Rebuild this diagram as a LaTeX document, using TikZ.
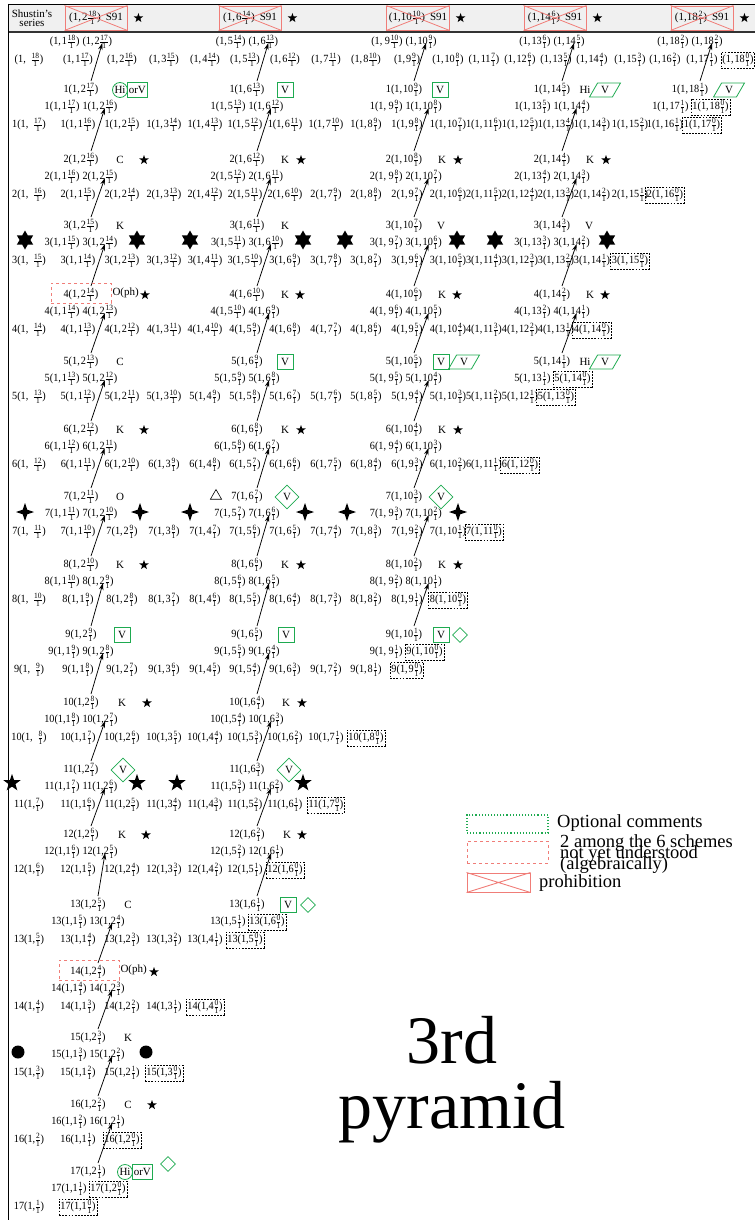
\documentclass[tikz,border=0pt]{standalone}
\usepackage{fontspec}
\setmainfont{Liberation Serif}
\newfontfamily\entfont[FakeStretch=0.93]{Liberation Serif}
\usetikzlibrary{shapes.geometric,arrows.meta,calc}
\definecolor{cgreen}{RGB}{30,170,80}
\definecolor{cred}{RGB}{240,125,120}
\newcommand\fnt{\entfont\fontsize{11}{11}\selectfont}
\newcommand\lfnt{\fontsize{11}{11}\selectfont}
\newcommand\fr[2]{$\nulldelimiterspace=0.8pt\frac{\hbox{\fontsize{8}{8}\selectfont #1}}{\hbox{\fontsize{8}{8}\selectfont #2}}$}
\begin{document}
\begin{tikzpicture}[x=1pt,y=-1pt,
  ent/.style={inner sep=0.3pt, font=\fnt},
  zbox/.style={ent, draw, dash pattern=on 1.8pt off 1.3pt, line width=0.55pt, inner sep=1.2pt},
  lab/.style={inner sep=0.5pt, font=\lfnt},
  gbox/.style={draw=cgreen, line width=0.8pt, inner sep=1.5pt, font=\lfnt, minimum width=16pt, minimum height=15pt},
  gcirc/.style={circle, draw=cgreen, line width=0.8pt, inner sep=0.3pt, minimum size=15pt, font=\lfnt},
  gdiam/.style={diamond, aspect=1, draw=cgreen, line width=0.8pt, inner sep=0pt, minimum size=24pt, font=\lfnt},
  ediam/.style={diamond, aspect=1, draw=cgreen, line width=0.8pt, inner sep=0pt, minimum size=15pt},
  gpara/.style={trapezium, trapezium left angle=60, trapezium right angle=120, draw=cgreen, line width=0.8pt, inner sep=1.2pt, minimum height=14pt, font=\lfnt},
  sstar/.style={star, star points=5, star point ratio=2.5, fill=black, inner sep=0pt, minimum size=10pt},
  sixstar/.style={star, star points=6, star point ratio=1.75, fill=black, inner sep=0pt, minimum size=19pt},
  fourstar/.style={star, star points=4, star point ratio=2.8, fill=black, inner sep=0pt, minimum size=18pt},
  bigstar/.style={star, star points=5, star point ratio=2.5, fill=black, inner sep=0pt, minimum size=18pt},
  bigdot/.style={circle, fill=black, inner sep=0pt, minimum size=13pt},
  tri/.style={regular polygon, regular polygon sides=3, draw, line width=0.6pt, inner sep=0pt, minimum size=13pt},
  rbox/.style={draw=cred, dashed, line width=0.7pt, minimum width=60pt, minimum height=20pt, inner sep=0pt},
  pbox/.style={draw=cred, line width=0.9pt, minimum height=24pt, minimum width=62pt, inner xsep=2pt, font=\lfnt},
  arr/.style={-{Stealth[length=7pt,width=4.5pt]}, line width=0.75pt}
]
\useasboundingbox (0,0) rectangle (755,1220);
% header band
\fill[gray!12] (8,4) rectangle (755,32);
\draw[line width=0.8pt] (8,4) -- (755,4);
\draw[line width=1.5pt, black!80] (8,32) -- (755,32);
\draw[line width=0.8pt] (8,4) -- (8,1220);
\node[font=\fontsize{11}{9.5}\selectfont, align=center, inner sep=0pt] (shu) at (32,18) {Shustin's\\series};
\foreach \j/\x/\t in {1/96/{(1,\hspace{1pt}2\fr{18}{1})},2/250/{(1,\hspace{1pt}6\fr{14}{1})},3/418/{(1,10\fr{10}{1})},4/555/{(1,14\fr{6}{1})},5/702/{(1,18\fr{2}{1})}}{
  \node[pbox] (P0-\j) at (\x,18) {\t\hspace{5pt}S91};
  \draw[cred, line width=0.8pt] (P0-\j.north west) -- (P0-\j.south east) (P0-\j.south west) -- (P0-\j.north east);
  \node[sstar] (PS-\j) at ([xshift=11pt]P0-\j.east) {};
}
% line B rows
\foreach \k in {0,...,17}{
  \pgfmathtruncatemacro\last{18-\k}
  \pgfmathsetmacro\yb{{25,90,160,226,295,362,430,497,565,635,703,770,835,905,972,1038,1105,1172}[\k]+35}
  \edef\pre{\ifnum\k>0 \k\fi}
  \ifnum\k<10 \def\csp{\hspace{1pt}}\else\def\csp{}\fi
  \foreach \i in {0,...,\last}{
    \pgfmathtruncatemacro\n{18-\k-\i}
    \pgfmathsetmacro\xb{{29,78,122,164,205,245,285,326,366,407,448,484,520,556,592,630,665,702,738}[\i]}
    \ifnum\i=0
      \ifnum\k<11 \def\sc{,\hspace{5pt}}\else\def\sc{,}\fi
    \else \edef\sc{,\noexpand\csp\i}\fi
    \ifnum\n=0
      \node[zbox] (B-\k-\i) at (\xb,\yb) {\pre(1\sc\fr{\n}{1})};
    \else
      \node[ent] (B-\k-\i) at (\xb,\yb) {\pre(1\sc\fr{\n}{1})};
    \fi
  }
}
% line A rows, headers and arrows
\foreach \k in {0,...,17}{
  \pgfmathtruncatemacro\J{floor((21-\k)/4)}
  \pgfmathsetmacro\yh{{25,90,160,226,295,362,430,497,565,635,703,770,835,905,972,1038,1105,1172}[\k]}
  \pgfmathsetmacro\ya{\yh+17}
  \pgfmathtruncatemacro\km{\k-1}
  \edef\pre{\ifnum\k>0 \k\fi}
  \ifnum\k<10 \def\csp{\hspace{1pt}}\else\def\csp{}\fi
  \foreach \j in {1,...,\J}{
    \pgfmathsetmacro\hx{{81,247,404,552,690}[\j-1]+and(\j==1,\k>12)*7}
    \pgfmathtruncatemacro\c{4*\j-2}
    \pgfmathtruncatemacro\cm{4*\j-3}
    \pgfmathtruncatemacro\n{22-4*\j-\k}
    \pgfmathtruncatemacro\nm{21-4*\j-\k}
    \ifnum\k=0 \ifnum\j=5 \def\cm{18}\def\nm{2}\fi\fi
    \ifnum\cm=9 \def\sa{, 9}\else\edef\sa{,\noexpand\csp\cm}\fi
    \node[ent,anchor=east] (A-\k-\j-1) at (\hx-1,\ya) {\pre(1\sa\fr{\n}{1})};
    \ifnum\nm=0
      \node[zbox,anchor=west] (A-\k-\j-2) at (\hx+1,\ya) {\pre(1,\csp\c\fr{\nm}{1})};
    \else
      \node[ent,anchor=west] (A-\k-\j-2) at (\hx+1,\ya) {\pre(1,\csp\c\fr{\nm}{1})};
    \fi
    \ifnum\k>0
      \node[ent] (H-\k-\j) at (\hx,\yh) {\pre(1,\csp\c\fr{\n}{1})};
      \draw[arr] ([xshift=10pt,yshift=9pt]H-\k-\j.center) -- ([xshift=5pt,yshift=-1pt]A-\km-\j-2.center);
    \fi
  }
}
% labels: level 1
\node[gcirc] (Hi-1-1) at ([xshift=39pt]H-1-1.center) {Hi};
\node[gbox,anchor=west] (OV-1-1) at ([xshift=-1pt]Hi-1-1.east) {orV};
\node[gbox] (V-1-2) at ([xshift=38pt]H-1-2.center) {V};
\node[gbox] (V-1-3) at ([xshift=36pt]H-1-3.center) {V};
\node[lab] (L-1-4) at ([xshift=33pt]H-1-4.center) {Hi};
\node[gpara] (Q-1-4) at ([xshift=53pt]H-1-4.center) {V};
\node[gpara] (Q-1-5) at ([xshift=39pt]H-1-5.center) {V};
% level 2
\node[lab] (L-2-1) at ([xshift=39pt]H-2-1.center) {C};
\node[sstar] (S-2-1) at ([xshift=63pt]H-2-1.center) {};
\foreach \j in {2,3,4}{
  \node[lab] (L-2-\j) at ([xshift=38pt]H-2-\j.center) {K};
  \node[sstar] (S-2-\j) at ([xshift=54pt]H-2-\j.center) {};
}
% level 3
\node[lab] (L-3-1) at ([xshift=39pt]H-3-1.center) {K};
\node[lab] (L-3-2) at ([xshift=38pt]H-3-2.center) {K};
\node[lab] (L-3-3) at ([xshift=37pt]H-3-3.center) {V};
\node[lab] (L-3-4) at ([xshift=37pt]H-3-4.center) {V};
\foreach \x [count=\m] in {25,137,190,303,345,457,495,607}{
  \node[sixstar] (X3-\m) at (\x,240) {};
}
% level 4
\node[rbox] (R-4) at ([yshift=2pt]H-4-1.center) {};
\node[lab,anchor=west] (L-4-1) at ([xshift=0.5pt]R-4.east) {O(ph)};
\node[sstar] (S-4-1) at ([xshift=64pt]H-4-1.center) {};
\foreach \j in {2,3,4}{
  \node[lab] (L-4-\j) at ([xshift=38pt]H-4-\j.center) {K};
  \node[sstar] (S-4-\j) at ([xshift=53pt]H-4-\j.center) {};
}
% level 5
\node[lab] (L-5-1) at ([xshift=39pt]H-5-1.center) {C};
\node[gbox] (V-5-2) at ([xshift=38pt]H-5-2.center) {V};
\node[gbox] (V-5-3) at ([xshift=37pt]H-5-3.center) {V};
\node[gpara] (Q-5-3) at ([xshift=60pt]H-5-3.center) {V};
\node[lab] (L-5-4) at ([xshift=33pt]H-5-4.center) {Hi};
\node[gpara] (Q-5-4) at ([xshift=53pt]H-5-4.center) {V};
% level 6
\node[lab] (L-6-1) at ([xshift=39pt]H-6-1.center) {K};
\node[sstar] (S-6-1) at ([xshift=63pt]H-6-1.center) {};
\foreach \j in {2,3}{
  \node[lab] (L-6-\j) at ([xshift=38pt]H-6-\j.center) {K};
  \node[sstar] (S-6-\j) at ([xshift=54pt]H-6-\j.center) {};
}
% level 7
\node[lab] (L-7-1) at ([xshift=39pt]H-7-1.center) {O};
\node[tri] (T-7-2) at ([xshift=-31pt,yshift=1pt]H-7-2.center) {};
\node[gdiam] (D-7-2) at ([xshift=40pt]H-7-2.center) {V};
\node[gdiam] (D-7-3) at ([xshift=37pt]H-7-3.center) {V};
\foreach \x [count=\m] in {25,140,190,305,347,458}{
  \node[fourstar] (X7-\m) at (\x,512) {};
}
% level 8
\node[lab] (L-8-1) at ([xshift=39pt]H-8-1.center) {K};
\node[sstar] (S-8-1) at ([xshift=63pt]H-8-1.center) {};
\foreach \j in {2,3}{
  \node[lab] (L-8-\j) at ([xshift=38pt]H-8-\j.center) {K};
  \node[sstar] (S-8-\j) at ([xshift=54pt]H-8-\j.center) {};
}
% level 9
\node[gbox] (V-9-1) at ([xshift=41pt]H-9-1.center) {V};
\node[gbox] (V-9-2) at ([xshift=39pt]H-9-2.center) {V};
\node[gbox] (V-9-3) at ([xshift=37pt]H-9-3.center) {V};
\node[ediam] (E-9-3) at ([xshift=56pt]H-9-3.center) {};
% level 10
\node[lab] (L-10-1) at ([xshift=41pt]H-10-1.center) {K};
\node[sstar] (S-10-1) at ([xshift=66pt]H-10-1.center) {};
\node[lab] (L-10-2) at ([xshift=39pt]H-10-2.center) {K};
\node[sstar] (S-10-2) at ([xshift=55pt]H-10-2.center) {};
% level 11
\node[gdiam] (D-11-1) at ([xshift=42pt]H-11-1.center) {V};
\node[gdiam] (D-11-2) at ([xshift=42pt]H-11-2.center) {V};
\foreach \x [count=\m] in {12,137,177,303}{
  \node[bigstar] (X11-\m) at (\x,783) {};
}
% level 12
\node[lab] (L-12-1) at ([xshift=41pt]H-12-1.center) {K};
\node[sstar] (S-12-1) at ([xshift=65pt]H-12-1.center) {};
\node[lab] (L-12-2) at ([xshift=40pt]H-12-2.center) {K};
\node[sstar] (S-12-2) at ([xshift=55pt]H-12-2.center) {};
% level 13
\node[lab] (L-13-1) at ([xshift=40pt]H-13-1.center) {C};
\node[gbox] (V-13-2) at ([xshift=41pt]H-13-2.center) {V};
\node[ediam] (E-13-2) at ([xshift=61pt]H-13-2.center) {};
% level 14
\node[rbox] (R-14) at ([yshift=2pt,xshift=1pt]H-14-1.center) {};
\node[lab,anchor=west] (L-14-1) at ([xshift=0.5pt]R-14.east) {O(ph)};
\node[sstar] (S-14-1) at ([xshift=66pt]H-14-1.center) {};
% level 15
\node[lab] (L-15-1) at ([xshift=40pt]H-15-1.center) {K};
\node[bigdot] (X15-1) at (18,1052) {};
\node[bigdot] (X15-2) at (146,1052) {};
% level 16
\node[lab] (L-16-1) at ([xshift=40pt]H-16-1.center) {C};
\node[sstar] (S-16-1) at ([xshift=64pt]H-16-1.center) {};
% level 17
\node[gcirc] (Hi-17-1) at ([xshift=37pt]H-17-1.center) {Hi};
\node[gbox,anchor=west] (OV-17-1) at ([xshift=-1pt]Hi-17-1.east) {orV};
\node[ediam] (E-17-1) at ([xshift=80pt,yshift=8pt]H-17-1.center) {};
% legend
\node[draw=cgreen, dotted, line width=1.1pt, minimum width=81pt, minimum height=18pt, inner sep=0pt] (lg1) at (507.5,824) {};
\node[anchor=base west, inner sep=0pt, font=\fontsize{18.5}{18.5}\selectfont] (lt1) at (557,827) {Optional comments};
\node[draw=cred, dashed, line width=0.9pt, minimum width=81pt, minimum height=22pt, inner sep=0pt] (lg2) at (507.5,852) {};
\node[anchor=base west, inner sep=0pt, font=\fontsize{18.5}{18.5}\selectfont] (lt2a) at (560,847) {2 among the 6 schemes};
\node[anchor=base west, inner sep=0pt, font=\fontsize{18.5}{18.5}\selectfont] (lt2b) at (560,858) {not yet understood};
\node[anchor=base west, inner sep=0pt, font=\fontsize{18.5}{18.5}\selectfont] (lt2c) at (560,869) {(algebraically)};
\node[draw=cred, line width=1pt, minimum width=63pt, minimum height=19pt, inner sep=0pt] (lg3) at (498.5,882.5) {};
\draw[cred, line width=0.9pt] (lg3.north west) -- (lg3.south east) (lg3.south west) -- (lg3.north east);
\node[anchor=base west, inner sep=0pt, font=\fontsize{18.5}{18.5}\selectfont] (lt3) at (539,887) {prohibition};
% title
\node[anchor=base, inner sep=0pt, font=\fontsize{68}{68}\selectfont] (t3) at (452,1063) {3rd};
\node[anchor=base, inner sep=0pt, font=\fontsize{68}{68}\selectfont] (tp) at (452,1128) {pyramid};
\end{tikzpicture}
\end{document}
